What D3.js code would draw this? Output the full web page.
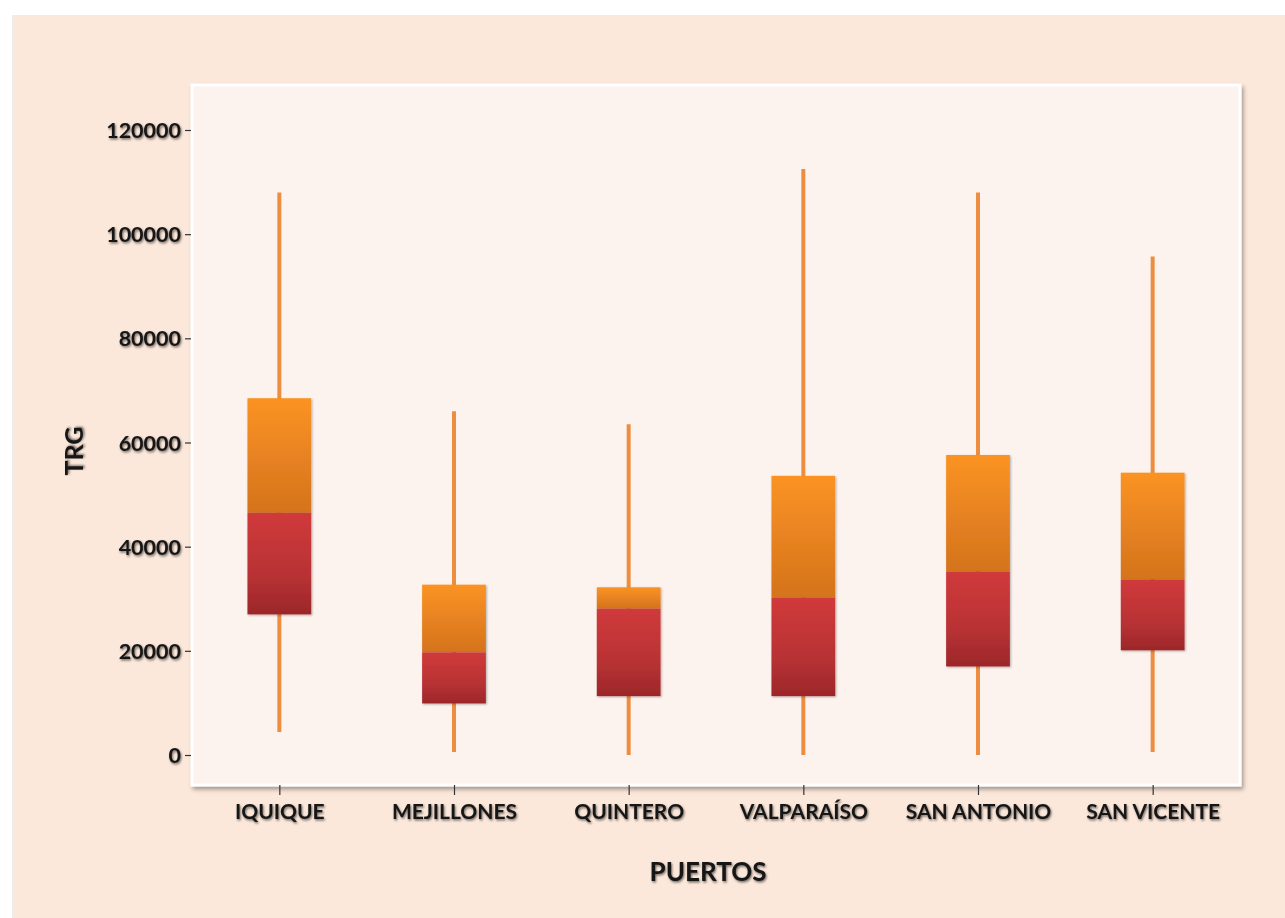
<!DOCTYPE html>
<html>
<head>
<meta charset="utf-8">
<script src="https://cdn.jsdelivr.net/npm/d3@7/dist/d3.min.js"></script>
<style>
  html, body { margin: 0; padding: 0; background: #ffffff; }
  svg { display: block; }
  text { font-family: Lato, "Open Sans", sans-serif; font-weight: 700; fill: #151515; }
</style>
</head>
<body>
<script>
// ---- data ----
const categories = ["IQUIQUE", "MEJILLONES", "QUINTERO", "VALPARAÍSO", "SAN ANTONIO", "SAN VICENTE"];
const whiskerMax = [108000, 66000, 63500, 112500, 108000, 95700];
const q3Values   = [68500, 32700, 32200, 53600, 57600, 54200];
const medians    = [46500, 19700, 28100, 30200, 35200, 33700];
const q1Values   = [27000, 9900, 11300, 11300, 17000, 20100];
const whiskerMin = [4400, 600, 0, 0, 0, 600];
const yTicks = [0, 20000, 40000, 60000, 80000, 100000, 120000];
const xTitle = "PUERTOS";
const yTitle = "TRG";

const W = 1285, H = 918;
const plot = { left: 192, top: 85, right: 1240, bottom: 785 };

const svg = d3.select("body").append("svg").attr("width", W).attr("height", H);
const defs = svg.append("defs");

// shadow filters
const f = defs.append("filter").attr("id", "plotShadow").attr("x", "-5%").attr("y", "-5%").attr("width", "110%").attr("height", "110%");
f.append("feDropShadow").attr("dx", 2).attr("dy", 3).attr("stdDeviation", 2).attr("flood-color", "#000").attr("flood-opacity", 0.35);
const tf = defs.append("filter").attr("id", "textShadow").attr("x", "-10%").attr("y", "-30%").attr("width", "120%").attr("height", "160%");
tf.append("feDropShadow").attr("dx", 1).attr("dy", 1.5).attr("stdDeviation", 1.3).attr("flood-color", "#000").attr("flood-opacity", 0.55);
const bf = defs.append("filter").attr("id", "boxShadow").attr("x", "-10%").attr("y", "-10%").attr("width", "120%").attr("height", "120%");
bf.append("feDropShadow").attr("dx", 1).attr("dy", 1).attr("stdDeviation", 1).attr("flood-color", "#000").attr("flood-opacity", 0.3);

const gUp = defs.append("linearGradient").attr("id", "gradUpper").attr("x1", 0).attr("y1", 0).attr("x2", 0).attr("y2", 1);
gUp.append("stop").attr("offset", "0%").attr("stop-color", "#FB9322");
gUp.append("stop").attr("offset", "100%").attr("stop-color", "#D4731E");
const gLo = defs.append("linearGradient").attr("id", "gradLower").attr("x1", 0).attr("y1", 0).attr("x2", 0).attr("y2", 1);
gLo.append("stop").attr("offset", "0%").attr("stop-color", "#D03A3B");
gLo.append("stop").attr("offset", "60%").attr("stop-color", "#B93234");
gLo.append("stop").attr("offset", "100%").attr("stop-color", "#9C272A");

// backgrounds
svg.append("rect").attr("x", 0).attr("y", 0).attr("width", W).attr("height", H).attr("fill", "#ffffff");
svg.append("line").attr("x1", 12.5).attr("x2", 12.5).attr("y1", 15).attr("y2", H).attr("stroke", "#e9edf2").attr("stroke-width", 1);
svg.append("rect").attr("x", 13).attr("y", 15).attr("width", W - 13).attr("height", H - 15).attr("fill", "#FCE8DA");

svg.append("rect")
  .attr("x", plot.left).attr("y", plot.top)
  .attr("width", plot.right - plot.left).attr("height", plot.bottom - plot.top)
  .attr("fill", "#FDF3EE").attr("stroke", "#ffffff").attr("stroke-width", 3)
  .attr("filter", "url(#plotShadow)");

// scales
const x = d3.scalePoint().domain(categories).range([plot.left, plot.right]).padding(0.5);
const y = d3.scaleLinear().domain([0, 120000]).range([755, 130]);
const boxW = x.step() * 0.365;

// y axis
const yAxis = d3.axisLeft(y).tickValues(yTicks).tickSize(6).tickPadding(4).tickFormat(d3.format("d"));
const yg = svg.append("g").attr("transform", `translate(${plot.left - 1},0)`).call(yAxis);
yg.select(".domain").remove();
yg.selectAll(".tick line").attr("stroke", "#333").attr("stroke-width", 1.2);
yg.selectAll(".tick text").attr("font-size", 21.5).attr("font-family", "Lato, sans-serif").attr("font-weight", 700)
  .attr("fill", "#151515").attr("filter", "url(#textShadow)").attr("dy", "0.35em");

// x axis
const xAxis = d3.axisBottom(x).tickSize(10).tickPadding(9);
const xg = svg.append("g").attr("transform", `translate(0,${plot.bottom})`).call(xAxis);
xg.select(".domain").remove();
xg.selectAll(".tick line").attr("stroke", "#333").attr("stroke-width", 1.2);
xg.selectAll(".tick text").attr("font-size", 21).attr("font-family", "Lato, sans-serif").attr("font-weight", 700)
  .attr("fill", "#151515").attr("filter", "url(#textShadow)");

// boxes
const data = categories.map((c, i) => ({
  c, max: whiskerMax[i], q3: q3Values[i], med: medians[i], q1: q1Values[i], min: whiskerMin[i]
}));

const boxes = svg.append("g").selectAll("g").data(data).join("g");
boxes.append("line")
  .attr("x1", d => x(d.c)).attr("x2", d => x(d.c))
  .attr("y1", d => y(d.max)).attr("y2", d => y(d.min))
  .attr("stroke", "#EC8D40").attr("stroke-width", 4);
boxes.append("rect")
  .attr("x", d => x(d.c) - boxW / 2).attr("width", boxW)
  .attr("y", d => y(d.q3)).attr("height", d => y(d.med) - y(d.q3))
  .attr("fill", "url(#gradUpper)").attr("filter", "url(#boxShadow)");
boxes.append("rect")
  .attr("x", d => x(d.c) - boxW / 2).attr("width", boxW)
  .attr("y", d => y(d.med)).attr("height", d => y(d.q1) - y(d.med))
  .attr("fill", "url(#gradLower)").attr("filter", "url(#boxShadow)");

// titles
svg.append("text").attr("x", 708).attr("y", 881)
  .attr("text-anchor", "middle").attr("font-size", 26).attr("filter", "url(#textShadow)").text(xTitle);
svg.append("text").attr("transform", "translate(83,451) rotate(-90)")
  .attr("text-anchor", "middle").attr("font-size", 25).attr("filter", "url(#textShadow)").text(yTitle);
</script>
</body>
</html>
